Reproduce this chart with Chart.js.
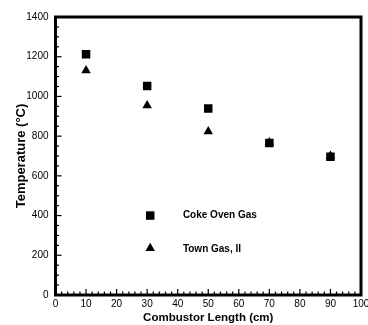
<!DOCTYPE html>
<html>
<head>
<meta charset="utf-8">
<script src="https://cdn.jsdelivr.net/npm/chart.js@4.4.1/dist/chart.umd.min.js"></script>
<style>
html,body{margin:0;padding:0;background:#fff;}
#wrap{width:368px;height:325px;position:relative;}
</style>
</head>
<body>
<div id="wrap"><canvas id="c" width="368" height="325"></canvas></div>
<script>
const lengths = [10, 30, 50, 70, 90];
const cokeOvenGas = [1213, 1053, 939, 765, 696];
const townGas = [1130, 954, 823, 768, 700];
const xTicks = [0, 10, 20, 30, 40, 50, 60, 70, 80, 90, 100];
const yTicks = [0, 200, 400, 600, 800, 1000, 1200, 1400];
const seriesNames = ['Coke Oven Gas', 'Town Gas, II'];
const legendPos = [[31, 400], [31, 236]];
const legendTextX = 41.7;

const FONT = "'Liberation Sans', Arial, sans-serif";

function pts(ys){ return lengths.map((x,i)=>({x:x,y:ys[i]})); }

function drawMarker(ctx, style, x, y, r){
  ctx.beginPath();
  if(style==='rect'){
    const s = Math.SQRT1_2*r;
    ctx.rect(x-s, y-s, 2*s, 2*s);
  } else {
    let rad = 0;
    ctx.moveTo(x + Math.sin(rad)*r, y - Math.cos(rad)*r);
    rad += 2*Math.PI/3;
    ctx.lineTo(x + Math.sin(rad)*r, y - Math.cos(rad)*r);
    rad += 2*Math.PI/3;
    ctx.lineTo(x + Math.sin(rad)*r, y - Math.cos(rad)*r);
    ctx.closePath();
  }
  ctx.fill();
}

const framePlugin = {
  id:'frame',
  afterDatasetsDraw(chart){
    const ctx = chart.ctx, a = chart.chartArea;
    const xs = chart.scales.x, ys = chart.scales.y;
    ctx.save();
    ctx.strokeStyle = '#000';
    ctx.lineWidth = 1.2;
    for(let v=0; v<=100; v+=2){
      const px = xs.getPixelForValue(v);
      const len = (v%10===0)?6:3.5;
      ctx.beginPath(); ctx.moveTo(px, a.bottom); ctx.lineTo(px, a.bottom-len); ctx.stroke();
    }
    for(let v=0; v<=1400; v+=50){
      const py = ys.getPixelForValue(v);
      const len = (v%200===0)?6:3.5;
      ctx.beginPath(); ctx.moveTo(a.left, py); ctx.lineTo(a.left+len, py); ctx.stroke();
    }
    ctx.lineWidth = 3;
    ctx.strokeRect(a.left, a.top, a.right-a.left, a.bottom-a.top);
    const styles = ['rect','triangle'];
    const radii = [6, 5.5];
    ctx.fillStyle = '#000';
    ctx.font = "bold 10px " + FONT;
    ctx.textBaseline = 'middle';
    ctx.textAlign = 'left';
    for(let i=0;i<2;i++){
      const px = xs.getPixelForValue(legendPos[i][0]);
      const py = ys.getPixelForValue(legendPos[i][1]);
      drawMarker(ctx, styles[i], px, py, radii[i]);
      ctx.fillText(seriesNames[i], xs.getPixelForValue(legendTextX), py + (i===0?0:1));
    }
    ctx.restore();
  }
};

new Chart(document.getElementById('c'), {
  type:'scatter',
  data:{
    datasets:[
      {label:seriesNames[1], data:pts(townGas), pointStyle:'triangle', pointRadius:5.5, backgroundColor:'#000', borderColor:'#000', borderWidth:0},
      {label:seriesNames[0], data:pts(cokeOvenGas), pointStyle:'rect', pointRadius:6, backgroundColor:'#000', borderColor:'#000', borderWidth:0}
    ]
  },
  options:{
    responsive:false,
    animation:false,
    devicePixelRatio:1,
    layout:{padding:{top:17, right:7, left:0, bottom:0}},
    plugins:{legend:{display:false}, tooltip:{enabled:false}},
    scales:{
      x:{
        type:'linear', min:0, max:100,
        afterBuildTicks(s){ s.ticks = xTicks.map(v=>({value:v})); },
        grid:{display:false, drawTicks:false},
        border:{display:false},
        ticks:{color:'#000', font:{family:FONT, size:10}, padding:3, maxRotation:0, autoSkip:false, callback:v=>String(v)},
        title:{display:true, text:'Combustor Length (cm)', color:'#000', font:{family:FONT, size:11.5, weight:'bold'}, padding:{top:0,bottom:0}},
        afterFit(s){ s.height = 30; s.paddingLeft = 0; s.paddingRight = 0; }
      },
      y:{
        type:'linear', min:0, max:1400,
        afterBuildTicks(s){ s.ticks = yTicks.map(v=>({value:v})); },
        grid:{display:false, drawTicks:false},
        border:{display:false},
        ticks:{color:'#000', font:{family:FONT, size:10}, padding:7, callback:v=>String(v)},
        title:{display:true, text:'Temperature (°C)', color:'#000', font:{family:FONT, size:13, weight:'bold'}, padding:{top:14,bottom:0}},
        afterFit(s){ s.width = 55.5; s.paddingTop = 0; s.paddingBottom = 0; }
      }
    }
  },
  plugins:[framePlugin]
});
</script>
</body>
</html>
